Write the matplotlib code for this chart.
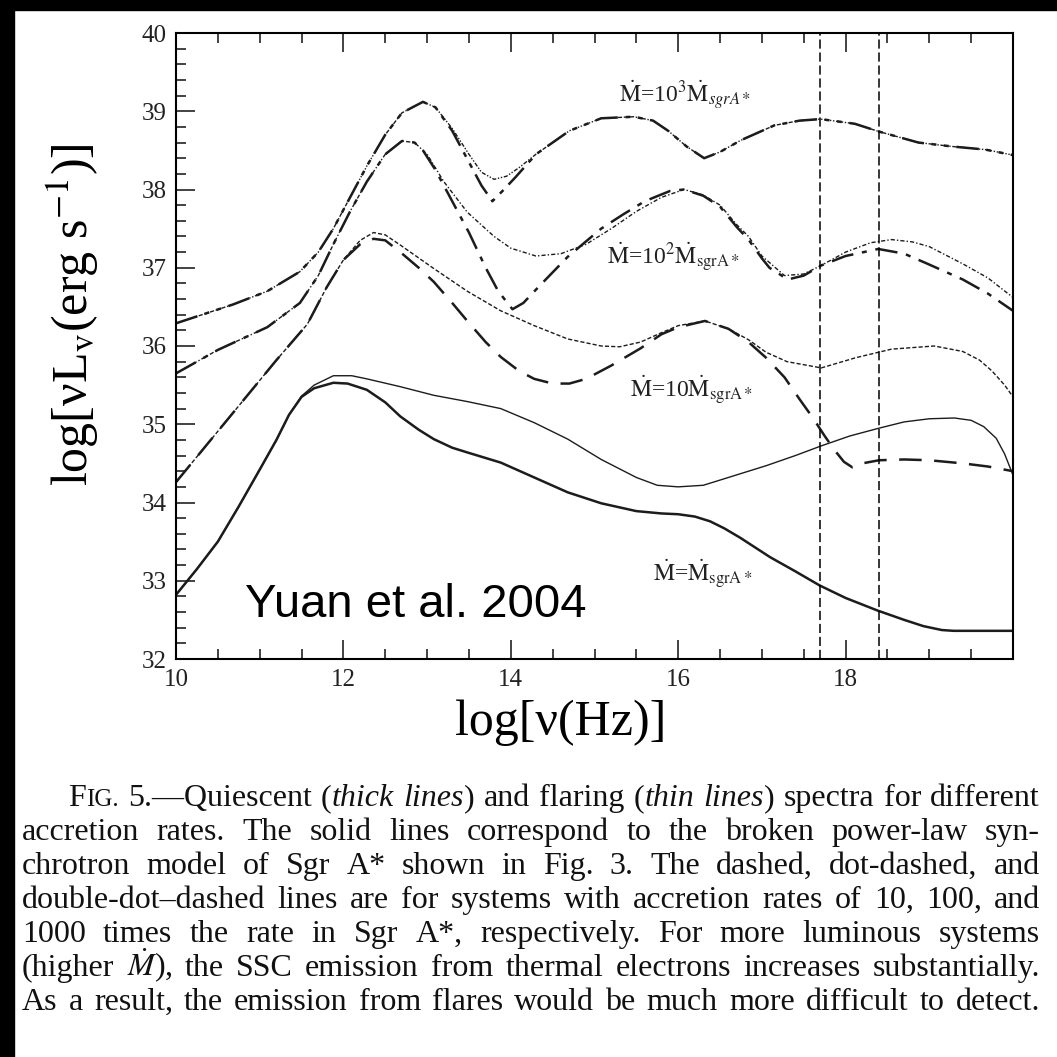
"""
Quiescent and flaring spectra of Sgr A*-like systems at several accretion rates.
"""

import re
import matplotlib
matplotlib.use("Agg")
import matplotlib.pyplot as plt
from matplotlib.patches import Rectangle
from matplotlib.ticker import MultipleLocator

plt.rcParams['font.family'] = ['Liberation Serif', 'DejaVu Serif']
plt.rcParams['mathtext.fontset'] = 'stix'

W = 1057  # figure size in pixels

# Mdot = Mdot_sgrA* : thick (quiescent) and thin (flaring) solid lines
x_q1 = [10, 10.25, 10.5, 10.75, 11.0, 11.2, 11.35, 11.5, 11.65, 11.88, 12.05, 12.28, 12.5, 12.68,
        12.9, 13.08, 13.3, 13.48, 13.88, 14.28, 14.68, 15.08, 15.5, 15.8, 16.0, 16.2, 16.38, 16.55,
        16.74, 17.1, 17.4, 17.69, 18.0, 18.38, 18.7, 18.93, 19.15, 19.29, 19.6, 20.0]
y_q1 = [32.82, 33.15, 33.5, 33.95, 34.42, 34.8, 35.12, 35.35, 35.46, 35.53, 35.52, 35.44, 35.28, 35.10,
        34.93, 34.81, 34.7, 34.64, 34.51, 34.32, 34.13, 33.99, 33.89, 33.86, 33.85, 33.82, 33.76, 33.67,
        33.55, 33.3, 33.12, 32.94, 32.78, 32.62, 32.5, 32.42, 32.37, 32.36, 32.36, 32.36]
x_f1 = [10, 10.25, 10.5, 10.75, 11.0, 11.2, 11.35, 11.5, 11.65, 11.88, 12.1, 12.28, 12.68, 13.08,
        13.48, 13.88, 14.28, 14.68, 15.08, 15.5, 15.75, 16.0, 16.3, 16.6, 17.05, 17.4, 17.7, 18.05,
        18.4, 18.7, 19.0, 19.3, 19.5, 19.65, 19.8, 19.9, 20.0]
y_f1 = [32.82, 33.15, 33.5, 33.95, 34.42, 34.8, 35.12, 35.36, 35.5, 35.62, 35.62, 35.58, 35.48, 35.37,
        35.29, 35.2, 35.02, 34.81, 34.55, 34.32, 34.22, 34.2, 34.22, 34.32, 34.47, 34.6, 34.72, 34.85,
        34.95, 35.03, 35.07, 35.08, 35.05, 34.97, 34.82, 34.62, 34.35]

# Mdot = 10 Mdot_sgrA* : dashed
x_q10 = [10, 10.4, 10.8, 11.2, 11.57, 11.8, 12.0, 12.2, 12.36, 12.5, 12.68, 12.9, 13.08, 13.3, 13.48,
         13.7, 13.88, 14.1, 14.28, 14.5, 14.7, 14.9, 15.2, 15.55, 15.8, 16.0, 16.32, 16.6, 16.84, 17.05,
         17.27, 17.45, 17.61, 17.75, 17.86, 17.98, 18.08, 18.2, 18.4, 18.7, 19.0, 19.4, 19.7, 20.0]
y_q10 = [34.26, 34.78, 35.3, 35.82, 36.28, 36.75, 37.1, 37.3, 37.37, 37.35, 37.2, 37.0, 36.82, 36.55, 36.32,
         36.05, 35.86, 35.68, 35.58, 35.52, 35.52, 35.58, 35.75, 35.97, 36.15, 36.24, 36.32, 36.22, 36.05, 35.85,
         35.6, 35.32, 35.08, 34.85, 34.68, 34.52, 34.45, 34.5, 34.54, 34.55, 34.54, 34.5, 34.46, 34.4]
x_f10 = [10, 10.4, 10.8, 11.2, 11.57, 11.8, 12.0, 12.2, 12.36, 12.5, 12.68, 13.08, 13.48, 13.88, 14.28,
         14.68, 15.08, 15.3, 15.55, 15.8, 16.0, 16.32, 16.6, 16.84, 17.05, 17.3, 17.71, 18.12, 18.55, 19.06,
         19.4, 19.6, 19.75, 19.9, 20.0]
y_f10 = [34.26, 34.78, 35.3, 35.82, 36.28, 36.75, 37.1, 37.35, 37.45, 37.42, 37.29, 36.99, 36.70, 36.45, 36.26,
         36.09, 36.0, 35.99, 36.05, 36.17, 36.26, 36.32, 36.22, 36.08, 35.92, 35.8, 35.72, 35.85, 35.96, 36.0,
         35.93, 35.82, 35.68, 35.5, 35.35]

# Mdot = 100 Mdot_sgrA* : dot-dashed
x_q100 = [10, 10.5, 11.09, 11.48, 11.7, 11.88, 12.08, 12.28, 12.5, 12.7, 12.85, 12.95, 13.1, 13.3, 13.5,
          13.7, 13.85, 14.02, 14.15, 14.3, 14.68, 15.08, 15.34, 15.6, 15.9, 16.07, 16.3, 16.5, 16.7, 16.84,
          17.0, 17.09, 17.31, 17.5, 17.71, 18.0, 18.39, 18.7, 18.98, 19.4, 19.7, 20.0]
y_q100 = [35.65, 35.95, 36.24, 36.55, 36.9, 37.3, 37.72, 38.1, 38.45, 38.62, 38.6, 38.5, 38.25, 37.85, 37.45,
          37.0, 36.7, 36.47, 36.55, 36.72, 37.14, 37.5, 37.68, 37.85, 37.98, 38.0, 37.92, 37.78, 37.52, 37.36,
          37.12, 37.0, 36.85, 36.9, 37.03, 37.15, 37.24, 37.18, 37.05, 36.85, 36.67, 36.45]
x_f100 = [10, 10.5, 11.09, 11.48, 11.7, 11.88, 12.08, 12.28, 12.5, 12.7, 12.85, 13.0, 13.2, 13.48, 13.8,
          14.0, 14.3, 14.6, 14.9, 15.2, 15.5, 15.8, 16.07, 16.3, 16.5, 16.7, 16.84, 17.0, 17.27, 17.5,
          17.71, 18.0, 18.3, 18.55, 18.8, 19.0, 19.4, 19.7, 20.0]
y_f100 = [35.65, 35.95, 36.24, 36.55, 36.9, 37.3, 37.72, 38.1, 38.45, 38.62, 38.6, 38.45, 38.1, 37.71, 37.4,
          37.25, 37.15, 37.18, 37.3, 37.5, 37.72, 37.9, 38.0, 37.93, 37.8, 37.55, 37.4, 37.15, 36.9, 36.92,
          37.03, 37.2, 37.32, 37.36, 37.33, 37.27, 37.05, 36.87, 36.62]

# Mdot = 1000 Mdot_sgrA* : double-dot-dashed
x_q1000 = [10, 10.68, 11.09, 11.48, 11.7, 11.88, 12.08, 12.28, 12.5, 12.7, 12.95, 13.1, 13.3, 13.5, 13.65,
           13.78, 13.9, 14.05, 14.3, 14.7, 15.08, 15.47, 15.7, 15.88, 16.1, 16.31, 16.5, 16.75, 17.15, 17.45,
           17.7, 18.11, 18.4, 18.87, 19.27, 19.67, 20.0]
y_q1000 = [36.29, 36.53, 36.7, 36.95, 37.2, 37.5, 37.9, 38.3, 38.7, 38.98, 39.12, 39.05, 38.75, 38.35, 38.05,
           37.85, 37.98, 38.15, 38.45, 38.75, 38.91, 38.93, 38.88, 38.75, 38.55, 38.4, 38.48, 38.63, 38.82, 38.88,
           38.9, 38.84, 38.74, 38.6, 38.55, 38.51, 38.44]
x_f1000 = [10, 10.68, 11.09, 11.48, 11.7, 11.88, 12.08, 12.28, 12.5, 12.7, 12.95, 13.1, 13.3, 13.5, 13.65,
           13.8, 13.95, 14.1, 14.3, 14.7, 15.08, 15.47, 15.7, 15.88, 16.1, 16.31, 16.5, 16.75, 17.15, 17.45,
           17.7, 18.11, 18.4, 18.87, 19.27, 19.67, 20.0]
y_f1000 = [36.29, 36.53, 36.7, 36.95, 37.2, 37.5, 37.9, 38.3, 38.7, 38.98, 39.12, 39.05, 38.78, 38.45, 38.22,
           38.13, 38.17, 38.28, 38.45, 38.75, 38.91, 38.93, 38.88, 38.75, 38.55, 38.4, 38.48, 38.63, 38.82, 38.88,
           38.9, 38.84, 38.74, 38.6, 38.55, 38.51, 38.44]

# X-ray band edges (log nu)
band_edges = [17.7, 18.4]

rate_labels = [r'$\dot{\rm M}$=10$^3\dot{\rm M}_{sgrA*}$',
               r'$\dot{\rm M}$=10$^2\dot{\rm M}_{\rm sgrA*}$',
               r'$\dot{\rm M}$=10$\dot{\rm M}_{\rm sgrA*}$',
               r'$\dot{\rm M}$=$\dot{\rm M}_{\rm sgrA*}$']
label_x = [15.29, 15.15, 15.43, 15.70]
label_y = [39.12, 37.05, 35.35, 33.0]

caption_lines = [
    "F^IG.^ 5.—Quiescent (_thick_ _lines_) and flaring (_thin_ _lines_) spectra for different",
    "accretion rates. The solid lines correspond to the broken power-law syn-",
    "chrotron model of Sgr A* shown in Fig. 3. The dashed, dot-dashed, and",
    "double-dot–dashed lines are for systems with accretion rates of 10, 100, and",
    "1000 times the rate in Sgr A*, respectively. For more luminous systems",
    "(higher $\\dot{M}$), the SSC emission from thermal electrons increases substantially.",
    "As a result, the emission from flares would be much more difficult to detect.",
]

fig = plt.figure(figsize=(W / 100, W / 100), dpi=100)
ax = fig.add_axes([176 / W, 1 - 659 / W, 837 / W, 626 / W])

ink = '#1c1c1c'
thick, thin = 1.8, 1.0
ax.plot(x_q1, y_q1, color=ink, lw=thick)
ax.plot(x_f1, y_f1, color=ink, lw=thin)
ax.plot(x_q10, y_q10, color=ink, lw=thick, dashes=(9, 5))
ax.plot(x_f10, y_f10, color=ink, lw=thin, dashes=(3, 1.5))
ax.plot(x_q100, y_q100, color=ink, lw=thick, dashes=(9, 3.5, 2, 3.5))
ax.plot(x_f100, y_f100, color=ink, lw=thin, dashes=(3, 1.5, 1, 1.5))
ax.plot(x_q1000, y_q1000, color=ink, lw=thick, dashes=(9, 3, 2, 3, 2, 3))
ax.plot(x_f1000, y_f1000, color=ink, lw=thin, dashes=(3, 1.2, 1, 1.2, 1, 1.2))

for xe in band_edges:
    ax.axvline(xe, color='black', lw=1.1, dashes=(6, 2.5))

for s, lx, ly in zip(rate_labels, label_x, label_y):
    ax.text(lx, ly, s, fontsize=17, color='#222222', va='baseline', ha='left')

ax.text(10.83, 32.54, 'Yuan et al. 2004', family='Liberation Sans', fontsize=34,
        va='baseline', ha='left')

ax.set_xlim(10, 20)
ax.set_ylim(32, 40)
ax.xaxis.set_major_locator(MultipleLocator(2))
ax.xaxis.set_minor_locator(MultipleLocator(0.5))
ax.yaxis.set_major_locator(MultipleLocator(1))
ax.yaxis.set_minor_locator(MultipleLocator(0.2))
ax.set_xticks([10, 12, 14, 16, 18])
ax.tick_params(which='both', direction='in', top=True, right=False, width=1.2,
               labelsize=18, colors='#222222')
ax.tick_params(which='major', length=14, pad=7)
ax.tick_params(which='minor', length=7)
for sp in ax.spines.values():
    sp.set_linewidth(1.5)

ax.set_xlabel('log[ν(Hz)]', fontsize=36)
ax.set_ylabel(r'log[νL$_{\rm v}$(erg s$^{-1}$)]', fontsize=36)
ax.xaxis.set_label_coords(0.46, -0.065)
ax.yaxis.set_label_coords(-0.09, 0.55)

# black scan border along the top and left edges
fig.patches.append(Rectangle((0, 1 - 10 / W), 1, 10 / W, transform=fig.transFigure,
                             color='black', zorder=10))
fig.patches.append(Rectangle((0, 0), 14 / W, 1, transform=fig.transFigure,
                             color='black', zorder=10))


def split_word(word):
    """Split a caption word into (text, style) pieces: _italic_, ^small caps^."""
    pieces, italic, caps = [], False, False
    for part in re.split(r'([_^])', word):
        if part == '_':
            italic = not italic
        elif part == '^':
            caps = not caps
        elif part:
            pieces.append((part, italic, caps))
    return pieces


# justified caption below the plot
cap_size = 23
renderer = fig.canvas.get_renderer()
for i, line in enumerate(caption_lines):
    left = 68 if i == 0 else 22
    right = 1040
    base = 1 - (806 + 34 * i) / W
    words = []
    for w in line.split(' '):
        objs = []
        for txt, italic, caps in split_word(w):
            t = fig.text(0, base, txt, fontsize=cap_size * (0.78 if caps else 1),
                         style='italic' if italic else 'normal', color='#111111',
                         va='baseline', ha='left')
            objs.append((t, t.get_window_extent(renderer).width))
        words.append(objs)
    widths = [sum(wd for _, wd in objs) for objs in words]
    gap = (right - left - sum(widths)) / max(len(words) - 1, 1)
    x = left
    for objs, wsum in zip(words, widths):
        xx = x
        for t, wd in objs:
            t.set_x(xx / W)
            xx += wd
        x += wsum + gap

fig.savefig('out.png', dpi=100, facecolor='white')
